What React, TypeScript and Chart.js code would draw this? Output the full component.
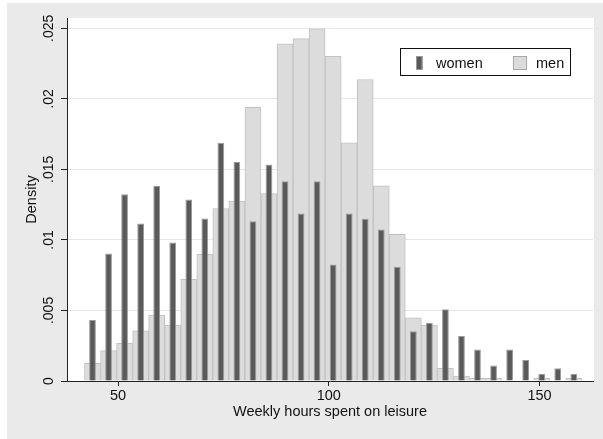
import React, { useEffect, useRef } from "react";
import { Chart, registerables } from "chart.js";

Chart.register(...registerables);

// Bin centres (weekly hours) shared by both histograms
const binCenters = [
  43.95, 47.76, 51.56, 55.37, 59.17, 62.98, 66.79, 70.59, 74.4, 78.2, 82.01,
  85.82, 89.62, 93.43, 97.23, 101.04, 104.85, 108.65, 112.46, 116.26, 120.07,
  123.88, 127.68, 131.49, 135.29, 139.1, 142.91, 146.71, 150.52, 154.32, 158.13,
];

const women = [
  0.00432, 0.00904, 0.01324, 0.01117, 0.01383, 0.00982, 0.01287, 0.01152,
  0.01688, 0.01553, 0.01133, 0.01535, 0.01416, 0.01188, 0.01416, 0.00826,
  0.01188, 0.0115, 0.01074, 0.0081, 0.00352, 0.00413, 0.00508, 0.00319,
  0.00224, 0.00109, 0.00224, 0.00149, 0.0005, 0.0009, 0.0005,
];

const men = [
  0.00125, 0.00215, 0.00267, 0.00356, 0.00467, 0.00397, 0.0072, 0.00897,
  0.01223, 0.01275, 0.0194, 0.01329, 0.0239, 0.02427, 0.02497, 0.02302,
  0.01688, 0.02137, 0.01383, 0.01039, 0.00448, 0.00397, 0.0009, 0.00035,
  0.00019, 0.00019, 0, 0, 0.00019, 0, 0.00019,
];

const seriesNames = ["women", "men"];
const xTicks = [50, 100, 150];
const yTicks = [0, 0.005, 0.01, 0.015, 0.02, 0.025];
const yTickLabels = ["0", ".005", ".01", ".015", ".02", ".025"];
const xTitle = "Weekly hours spent on leisure";
const yTitle = "Density";

const FONT = "'Liberation Sans', Arial, Helvetica, sans-serif";
const WOMEN_FILL = "#5a5a5a";
const WOMEN_LINE = "#9a9a9a";
const MEN_FILL = "#dcdcdc";
const MEN_LINE = "#c2c2c2";
const AXIS = "#222222";
const TEXT = "#111111";

const backgroundPlugin = {
  id: "stataBackground",
  beforeDraw(chart: any) {
    const { ctx, width, height, chartArea } = chart;
    ctx.save();
    ctx.fillStyle = "#ffffff";
    ctx.fillRect(0, 0, width, height);
    ctx.fillStyle = "#eaeaea";
    ctx.fillRect(7, 3, width - 7, height - 3);
    ctx.fillStyle = "#ffffff";
    ctx.fillRect(
      chartArea.left,
      chartArea.top,
      chartArea.right - chartArea.left + 1,
      chartArea.bottom - chartArea.top
    );
    ctx.restore();
  },
};

const overlayPlugin = {
  id: "stataOverlay",
  afterDraw(chart: any) {
    const { ctx } = chart;
    const ys = chart.scales.y;
    ctx.save();
    ctx.fillStyle = TEXT;
    ctx.font = `14px ${FONT}`;
    yTicks.forEach((v, i) => {
      const py = ys.getPixelForValue(v);
      ctx.save();
      ctx.translate(53, py);
      ctx.rotate(-Math.PI / 2);
      ctx.textAlign = "center";
      ctx.textBaseline = "alphabetic";
      ctx.fillText(yTickLabels[i], 0, 0);
      ctx.restore();
    });

    // legend box
    const ds = chart.data.datasets;
    ctx.fillStyle = "#ffffff";
    ctx.fillRect(400, 48, 171, 28);
    ctx.strokeStyle = "#111111";
    ctx.lineWidth = 1;
    ctx.strokeRect(400.5, 48.5, 170, 27);

    // women swatch
    ctx.fillStyle = ds[0].backgroundColor;
    ctx.fillRect(416, 56, 6.5, 14);
    ctx.strokeStyle = ds[0].borderColor;
    ctx.strokeRect(416.5, 56.5, 5.5, 13);
    // men swatch
    ctx.fillStyle = ds[1].backgroundColor;
    ctx.fillRect(513, 56, 14, 14);
    ctx.strokeStyle = "#a8a8a8";
    ctx.strokeRect(513.5, 56.5, 13, 13);

    ctx.fillStyle = TEXT;
    ctx.font = `14.5px ${FONT}`;
    ctx.textAlign = "left";
    ctx.textBaseline = "alphabetic";
    ctx.fillText(seriesNames[0], 436, 68);
    ctx.fillText(seriesNames[1], 536, 68);
    ctx.restore();
  },
};

export default function App() {
  const canvasRef = useRef<HTMLCanvasElement | null>(null);

  useEffect(() => {
    const canvas = canvasRef.current;
    if (!canvas) return;
    const chart = new Chart(canvas, {
      type: "bar",
      data: {
        datasets: [
          {
            label: seriesNames[0],
            data: binCenters.map((x, i) => ({ x, y: women[i] })),
            backgroundColor: WOMEN_FILL,
            borderColor: WOMEN_LINE,
            borderWidth: 1,
            barPercentage: 0.42,
            categoryPercentage: 1,
            grouped: false,
          } as any,
          {
            label: seriesNames[1],
            data: binCenters.map((x, i) => ({ x, y: men[i] })),
            backgroundColor: MEN_FILL,
            borderColor: MEN_LINE,
            borderWidth: 1,
            barPercentage: 1,
            categoryPercentage: 1,
            grouped: false,
          } as any,
        ],
      },
      options: {
        animation: false,
        responsive: false,
        devicePixelRatio: 1,
        layout: { padding: { left: 0, top: 18, right: 10, bottom: 0 } },
        plugins: { legend: { display: false }, tooltip: { enabled: false } },
        scales: {
          x: {
            type: "linear",
            offset: false,
            min: 37.9,
            max: 162.69,
            afterBuildTicks: (s: any) => {
              s.ticks = xTicks.map((v) => ({ value: v }));
            },
            afterFit: (s: any) => {
              s.height = 58;
            },
            grid: {
              offset: false,
              drawOnChartArea: false,
              drawTicks: true,
              tickLength: 5,
              tickColor: AXIS,
            },
            border: { color: AXIS, width: 1 },
            ticks: {
              font: { family: FONT, size: 14.5 },
              color: TEXT,
              padding: 1,
              maxRotation: 0,
              autoSkip: false,
            },
            title: {
              display: true,
              text: xTitle,
              font: { family: FONT, size: 14.5 },
              color: TEXT,
              padding: { top: 0, bottom: 18 },
            },
          },
          y: {
            type: "linear",
            min: 0,
            max: 0.02573,
            afterBuildTicks: (s: any) => {
              s.ticks = yTicks.map((v) => ({ value: v }));
            },
            afterFit: (s: any) => {
              s.width = 67;
            },
            grid: {
              color: "#e6e6e6",
              tickColor: AXIS,
              tickLength: 6,
            },
            border: { color: AXIS, width: 1 },
            ticks: { display: false },
            title: {
              display: true,
              text: yTitle,
              font: { family: FONT, size: 14.5 },
              color: TEXT,
              padding: { top: 23, bottom: 0 },
            },
          },
        },
      } as any,
      plugins: [backgroundPlugin, overlayPlugin],
    });
    return () => chart.destroy();
  }, []);

  return (
    <div style={{ position: "absolute", left: 0, top: 0, width: 603, height: 439 }}>
      <canvas ref={canvasRef} width={603} height={439} style={{ display: "block" }} />
    </div>
  );
}
